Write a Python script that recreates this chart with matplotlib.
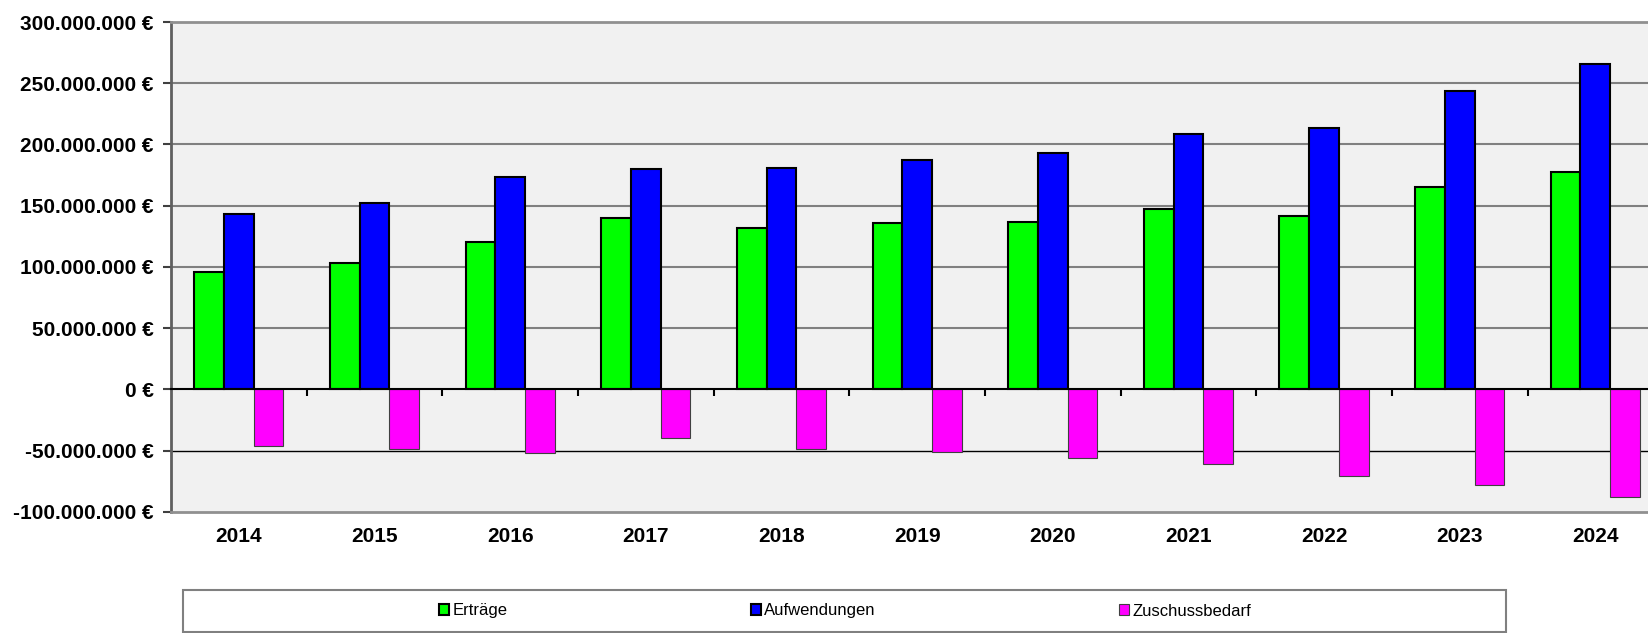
import matplotlib.pyplot as plt
import numpy as np
from matplotlib.patches import Rectangle

years = ["2014", "2015", "2016", "2017", "2018", "2019", "2020", "2021", "2022", "2023", "2024"]
ertraege = [96.0, 102.9, 120.6, 140.3, 131.5, 136.1, 136.5, 147.3, 141.9, 165.6, 177.6]
aufwendungen = [143.2, 151.9, 173.3, 179.6, 180.7, 187.0, 193.3, 208.6, 213.7, 243.8, 265.9]
zuschuss = [-46.5, -48.9, -52.4, -39.6, -49.1, -51.4, -56.1, -61.4, -71.2, -78.5, -88.0]
yticks = [-100, -50, 0, 50, 100, 150, 200, 250, 300]

plt.rcParams['font.family'] = ['Liberation Sans', 'DejaVu Sans']

fig = plt.figure(figsize=(16.48, 6.33), dpi=100)
ax = fig.add_axes([0.1038, 0.1916, 0.9054, 0.7736])
ax.set_facecolor("#f1f1f1")

x = np.arange(len(years))
w = 0.219
scale = 1e6
ax.bar(x - w, np.array(ertraege) * scale, w, color="#00ff00", edgecolor="black", linewidth=1.5, label="Erträge", zorder=3)
ax.bar(x, np.array(aufwendungen) * scale, w, color="#0000ff", edgecolor="black", linewidth=1.5, label="Aufwendungen", zorder=3)
ax.bar(x + w, np.array(zuschuss) * scale, w, color="#ff00ff", edgecolor="#404040", linewidth=0.8, label="Zuschussbedarf", zorder=3)

ax.set_xlim(-0.5, len(years) - 0.5)
ax.set_ylim(-100 * scale, 300 * scale)

# grid lines
for t in yticks[1:-1]:
    if t == 0:
        continue
    col = "black" if t < 0 else "#808080"
    lw = 1.0 if t < 0 else 1.5
    ax.axhline(t * scale, color=col, lw=lw, zorder=1)

ax.set_yticks([t * scale for t in yticks])
ax.set_yticklabels([f"{t * 1000000:,.0f}".replace(",", ".") + " €" for t in yticks],
                   fontsize=15, fontweight="bold")
ax.tick_params(axis="y", direction="out", length=5.5, width=1.5, color="#404040", pad=7)

ax.set_xticks(x)
ax.set_xticklabels(years, fontsize=15, fontweight="bold")
ax.tick_params(axis="x", length=0, pad=11)

for s in ["top", "bottom"]:
    ax.spines[s].set_color("#909090")
    ax.spines[s].set_linewidth(2)
ax.spines["left"].set_color("#606060")
ax.spines["left"].set_linewidth(2)
ax.spines["right"].set_visible(False)

# zero line with category separators
sec = ax.secondary_xaxis(0.25)
sec.set_xticks(x[:-1] + 0.5)
sec.set_xticklabels([])
sec.tick_params(direction="out", length=5, width=1.5, color="black")
sec.spines["bottom"].set_color("black")
sec.spines["bottom"].set_linewidth(1.5)
sec.set_zorder(4)

# legend
fig.patches.append(Rectangle((183 / 1648, 1 - 632 / 633), (1506 - 183) / 1648, 42 / 633,
                             transform=fig.transFigure, facecolor="white",
                             edgecolor="#808080", linewidth=1.5))
fig.legend(loc="center", bbox_to_anchor=(845 / 1648, 1 - 611 / 633), ncol=3, frameon=False,
           fontsize=12, handlelength=0.6, handleheight=0.6, handletextpad=0.2,
           columnspacing=14.6)

fig.savefig("out.png", dpi=100)
